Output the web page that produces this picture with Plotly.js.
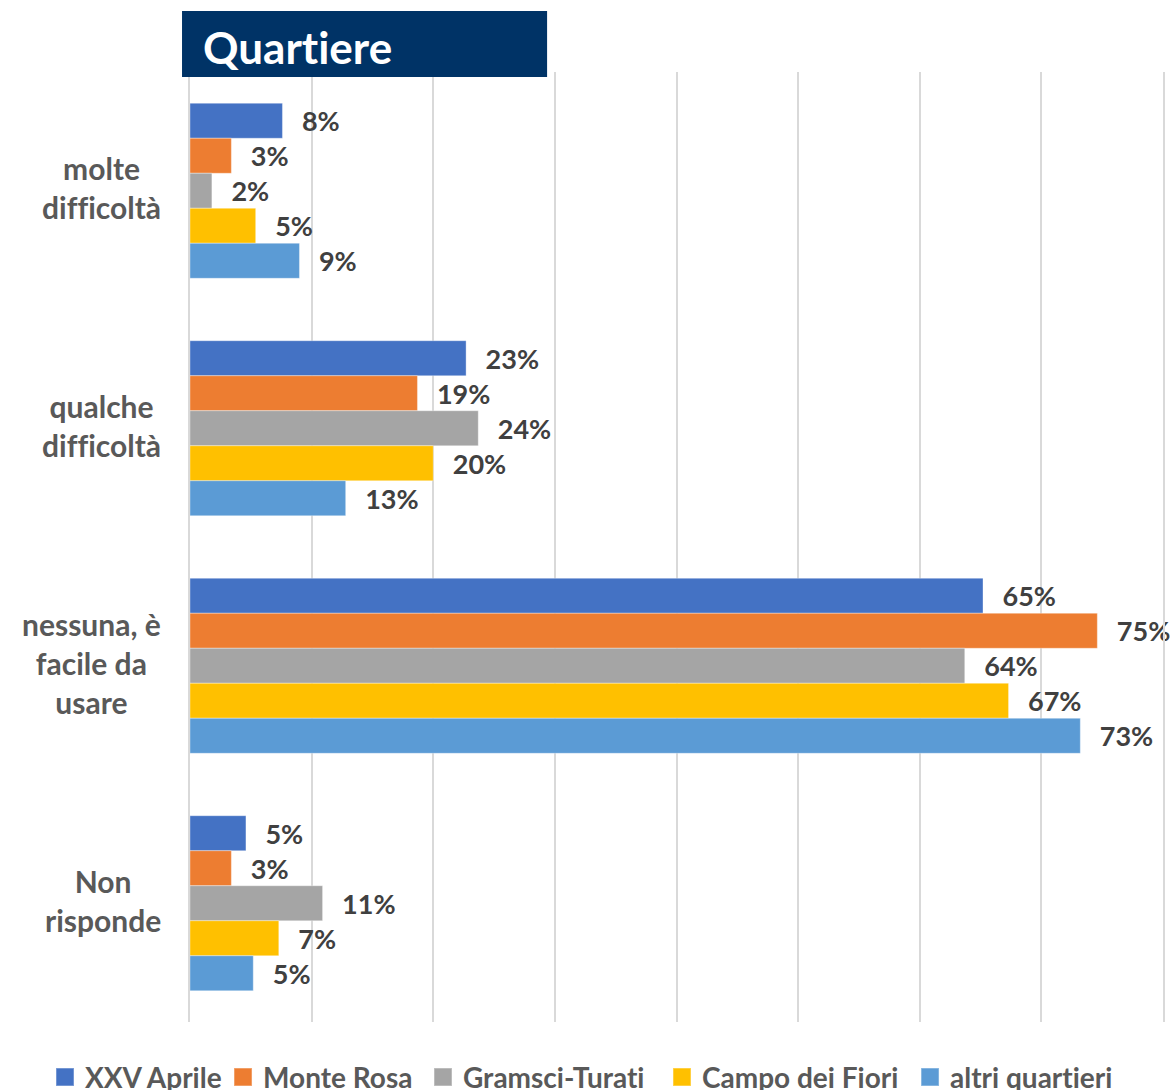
<!DOCTYPE html>
<html>
<head>
<meta charset="utf-8">
<script src="https://cdn.plot.ly/plotly-3.0.1.min.js"></script>
<style>
html,body{margin:0;padding:0;background:#fff;}
#chart{width:1175px;height:1090px;}
text{font-variant-ligatures:none !important;font-feature-settings:"liga" 0,"clig" 0 !important;}
.legendpoints path{transform:translate(20px,0) scale(1.5);}
</style>
</head>
<body>
<div id="chart"></div>
<script>
const categories = ["molte difficoltà", "qualche difficoltà", "nessuna, è facile da usare", "Non risponde"];
const categoryLabels = ["molte<br>difficoltà", "qualche<br>difficoltà", "nessuna, è<br>facile da<br>usare", "Non<br>risponde"];
const seriesNames = ["XXV Aprile", "Monte Rosa", "Gramsci-Turati", "Campo dei Fiori", "altri quartieri"];
const xxvAprile = [0.076, 0.227, 0.652, 0.046];
const monteRosa = [0.034, 0.187, 0.746, 0.034];
const gramsciTurati = [0.018, 0.237, 0.637, 0.109];
const campoDeiFiori = [0.054, 0.200, 0.673, 0.073];
const altriQuartieri = [0.090, 0.128, 0.732, 0.052];
const seriesValues = [xxvAprile, monteRosa, gramsciTurati, campoDeiFiori, altriQuartieri];
const colors = ["#4472C4", "#ED7D31", "#A5A5A5", "#FFC000", "#5B9BD5"];
const titleText = "Quartiere";

const FONT = "Lato, 'Open Sans', sans-serif";
const legendIds = ["legend", "legend2", "legend3", "legend4", "legend5"];
const legendX = [0.0383, 0.1898, 0.36, 0.5634, 0.7745];

const traces = seriesNames.map((name, i) => ({
  type: "bar",
  orientation: "h",
  name: name,
  legend: legendIds[i],
  y: categories,
  x: seriesValues[i],
  marker: {color: colors[i], line: {color: "rgba(255,255,255,0.35)", width: 1}},
  texttemplate: "\u00a0\u00a0\u2009%{x:.0%}",
  textposition: "outside",
  constraintext: "none",
  cliponaxis: false,
  textfont: {family: FONT, size: 27, color: "#404040", weight: "bold"},
  hoverinfo: "skip"
}));

const annotations = categories.map((c, i) => ({
  xref: "paper", yref: "y",
  x: -0.0277, y: c, yshift: 3,
  xanchor: "right", yanchor: "middle",
  text: categoryLabels[i],
  align: "center",
  showarrow: false,
  font: {family: FONT, size: 30, color: "#595959", weight: "bold"}
}));
annotations.push({
  xref: "paper", yref: "paper",
  x: 0.0113, y: 1.026,
  xanchor: "left", yanchor: "middle",
  text: titleText,
  showarrow: false,
  font: {family: FONT, size: 44, color: "#ffffff", weight: "bold"}
});

const layout = {
  width: 1175, height: 1090,
  margin: {l: 190, r: 12, t: 72, b: 68, autoexpand: false},
  paper_bgcolor: "#ffffff",
  plot_bgcolor: "#ffffff",
  barmode: "group",
  bargap: 0.263,
  bargroupgap: 0,
  xaxis: {
    range: [0, 0.8], dtick: 0.1, tick0: 0,
    showticklabels: false, ticks: "",
    showgrid: true, gridcolor: "#d9d9d9", gridwidth: 2,
    zeroline: false, showline: false, fixedrange: true
  },
  yaxis: {
    type: "category", autorange: "reversed",
    showticklabels: false, ticks: "", showgrid: false, zeroline: false,
    showline: true, mirror: true, linecolor: "#d9d9d9", linewidth: 2
  },
  showlegend: true,
  shapes: [{
    type: "rect", xref: "paper", yref: "paper",
    x0: -0.0082, x1: 0.367, y0: 0.9947, y1: 1.0642,
    fillcolor: "#003366", line: {width: 0}, layer: "above"
  }],
  annotations: annotations
};
legendIds.forEach((id, i) => {
  layout[id] = {
    orientation: "h",
    xref: "container",
    x: legendX[i], xanchor: "left",
    y: -0.0318, yanchor: "top",
    font: {family: FONT, size: 28, color: "#595959", weight: "bold"},
    bgcolor: "rgba(0,0,0,0)",
    itemwidth: 30
  };
});

Plotly.newPlot("chart", traces, layout, {displayModeBar: false, staticPlot: true});
</script>
</body>
</html>
